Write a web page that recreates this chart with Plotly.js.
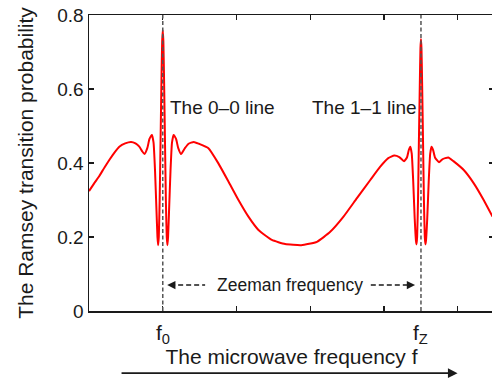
<!DOCTYPE html>
<html>
<head>
<meta charset="utf-8">
<script src="https://cdn.plot.ly/plotly-3.0.1.min.js"></script>
<style>html,body{margin:0;padding:0;overflow:hidden;background:#fff;}</style>
</head>
<body>
<div id="chart"></div>
<script>
// Frequency axis in tick units (f0 at 1, fz at 4.5)
const freq = [0.000,0.070,0.140,0.210,0.275,0.345,0.411,0.490,0.570,0.630,0.682,0.720,0.752,0.790,0.820,0.853,0.875,0.895,0.915,0.928,0.937,0.946,0.958,0.970,0.982,0.992,1.000,1.008,1.018,1.030,1.042,1.054,1.063,1.072,1.085,1.105,1.125,1.147,1.180,1.210,1.248,1.300,1.350,1.420,1.490,1.619,1.754,1.890,2.026,2.161,2.297,2.479,2.659,2.877,3.090,3.270,3.450,3.632,3.813,3.948,4.057,4.138,4.206,4.270,4.310,4.335,4.355,4.375,4.395,4.415,4.432,4.440,4.448,4.460,4.472,4.484,4.493,4.500,4.507,4.516,4.528,4.540,4.552,4.560,4.568,4.585,4.605,4.625,4.643,4.665,4.690,4.745,4.790,4.870,4.940,5.080,5.216,5.350,5.470];
const prob = [0.324,0.345,0.365,0.388,0.408,0.428,0.444,0.453,0.457,0.453,0.444,0.432,0.424,0.440,0.465,0.476,0.455,0.380,0.270,0.200,0.178,0.200,0.300,0.460,0.620,0.730,0.759,0.730,0.620,0.460,0.300,0.200,0.178,0.200,0.270,0.380,0.455,0.476,0.465,0.440,0.424,0.440,0.452,0.457,0.452,0.440,0.399,0.350,0.300,0.255,0.219,0.192,0.181,0.178,0.187,0.214,0.255,0.305,0.354,0.390,0.413,0.420,0.416,0.405,0.415,0.435,0.444,0.425,0.350,0.250,0.190,0.180,0.200,0.300,0.460,0.610,0.710,0.735,0.710,0.610,0.460,0.300,0.200,0.180,0.190,0.250,0.350,0.425,0.444,0.435,0.415,0.402,0.410,0.415,0.405,0.381,0.345,0.300,0.255];
const lineFreqs = [1, 4.5];
const lineLabels = ['f<sub>0</sub>', 'f<sub>Z</sub>'];
const lineNames = ['The 0\u20130 line', 'The 1\u20131 line'];
const xTicks = [0, 1, 2, 3, 4, 5];
const yTicks = [0, 0.2, 0.4, 0.6, 0.8];
const yTickText = ['0', '0.2', '0.4', '0.6', '0.8'];
const zeemanText = 'Zeeman frequency';

const font = 'Liberation Sans, Arial, sans-serif';
const ink = '#1a1a1a';

const shapes = lineFreqs.map(f => ({
  type: 'line', xref: 'x', yref: 'y', x0: f, x1: f, y0: 0, y1: 0.8,
  line: {color: '#555', width: 1.5, dash: '4px,2.5px'}, layer: 'above'
}));
// dashed arrow shafts for Zeeman frequency
shapes.push({type:'line', xref:'x', yref:'y', x0:1.10, x1:1.574, y0:0.070, y1:0.070, line:{color:ink, width:1.5, dash:'5px,3px'}});
shapes.push({type:'line', xref:'x', yref:'y', x0:3.82, x1:4.38, y0:0.070, y1:0.070, line:{color:ink, width:1.5, dash:'5px,3px'}});

const annotations = [];
lineFreqs.forEach((f, i) => {
  annotations.push({x: f, y: 0, xref: 'x', yref: 'paper', yanchor: 'top', xanchor: 'center', yshift: -8,
    text: lineLabels[i], showarrow: false, font: {family: font, size: 21, color: ink}});
});
annotations.push({x: 1.07, y: 0.55, xref:'x', yref:'y', xanchor:'left', yanchor:'middle', text: lineNames[0], showarrow:false, font:{family:font, size:19, color:ink}});
annotations.push({x: 4.47, y: 0.55, xref:'x', yref:'y', xanchor:'right', yanchor:'middle', text: lineNames[1], showarrow:false, font:{family:font, size:19, color:ink}});
annotations.push({x: 2.72, y: 0.070, xref:'x', yref:'y', xanchor:'center', yanchor:'middle', text: zeemanText, showarrow:false, font:{family:font, size:17.5, color:ink}});
// arrow heads
annotations.push({x: 1.06, y: 0.070, xref:'x', yref:'y', ax: 8, ay: 0, text:' ', showarrow:true, arrowhead:2, arrowsize:1.1, arrowwidth:1.5, arrowcolor:ink});
annotations.push({x: 4.42, y: 0.070, xref:'x', yref:'y', ax: -8, ay: 0, text:' ', showarrow:true, arrowhead:2, arrowsize:1.1, arrowwidth:1.5, arrowcolor:ink});
// frequency direction arrow below axis title
annotations.push({x: 0.91, y: -0.21, xref:'paper', yref:'paper', ax: -339, ay: 0, text:' ', showarrow:true, arrowhead:2, arrowsize:1.2, arrowwidth:1.6, arrowcolor:ink});

const trace = {
  x: freq, y: prob, type: 'scatter', mode: 'lines',
  line: {color: '#ff0000', width: 2, shape: 'spline', smoothing: 0.45},
  hoverinfo: 'skip'
};

const layout = {
  width: 494, height: 381,
  margin: {l: 89, r: 0, t: 15, b: 70},
  paper_bgcolor: '#fff', plot_bgcolor: '#fff',
  showlegend: false,
  font: {family: font, color: ink},
  xaxis: {
    range: [0, 5.49], tickvals: xTicks, showticklabels: false,
    ticks: 'inside', ticklen: 5, tickwidth: 1.2, tickcolor: ink,
    showline: true, linecolor: ink, linewidth: 1.5, mirror: 'ticks',
    showgrid: false, zeroline: false,
    title: {text: 'The microwave frequency f', font: {family: font, size: 21, color: ink}, standoff: 38}
  },
  yaxis: {
    range: [0, 0.8], tickvals: yTicks, ticktext: yTickText,
    ticks: 'inside', ticklen: 5, tickwidth: 1.2, tickcolor: ink,
    tickfont: {family: font, size: 19, color: ink},
    showline: true, linecolor: ink, linewidth: 1.5, mirror: 'ticks',
    showgrid: false, zeroline: false,
    title: {text: 'The Ramsey transition probability', font: {family: font, size: 21, color: ink}, standoff: 18}
  },
  shapes: shapes,
  annotations: annotations
};

Plotly.newPlot('chart', [trace], layout, {displayModeBar: false, staticPlot: true});
</script>
</body>
</html>
